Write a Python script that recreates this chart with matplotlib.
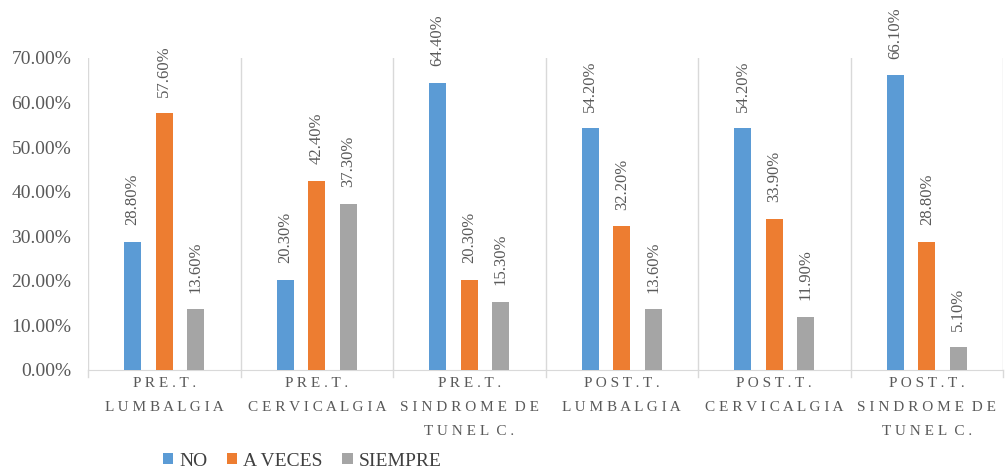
import matplotlib.pyplot as plt
import numpy as np

plt.rcParams['font.family'] = ['Liberation Serif', 'DejaVu Serif']

categories = [
    "PRE.T. LUMBALGIA",
    "PRE.T. CERVICALGIA",
    "PRE.T. SINDROME DE TUNEL C.",
    "POST.T. LUMBALGIA",
    "POST.T. CERVICALGIA",
    "POST.T. SINDROME DE TUNEL C.",
]
# wrapped lines as shown under each group
category_lines = [
    ["PRE.T.", "LUMBALGIA"],
    ["PRE.T.", "CERVICALGIA"],
    ["PRE.T.", "SINDROME DE", "TUNEL C."],
    ["POST.T.", "LUMBALGIA"],
    ["POST.T.", "CERVICALGIA"],
    ["POST.T.", "SINDROME DE", "TUNEL C."],
]
no_vals = [28.8, 20.3, 64.4, 54.2, 54.2, 66.1]
aveces_vals = [57.6, 42.4, 20.3, 32.2, 33.9, 28.8]
siempre_vals = [13.6, 37.3, 15.3, 13.6, 11.9, 5.1]
series_names = ["NO", "A VECES", "SIEMPRE"]
colors = ["#5B9BD5", "#ED7D31", "#A5A5A5"]
yticks = [0, 10, 20, 30, 40, 50, 60, 70]

text_gray = "#595959"


def spaced(line):
    # mimic the wide letter spacing of the original labels
    return "  ".join(" ".join(word) for word in line.split(" "))


fig = plt.figure(figsize=(10.05, 4.72), dpi=100)
ax = fig.add_axes([88 / 1005, 1 - 370 / 472, 915 / 1005, 312 / 472])

x = np.arange(len(categories))
width = 0.11
offset = 0.207
series = [no_vals, aveces_vals, siempre_vals]
for i, (vals, name, col) in enumerate(zip(series, series_names, colors)):
    pos = x + (i - 1) * offset
    bars = ax.bar(pos, vals, width, color=col, label=name, zorder=3)
    for b, v in zip(bars, vals):
        ax.annotate(f"{v:.2f}%", xy=(b.get_x() + b.get_width() / 2, v),
                    xytext=(0, 12), textcoords="offset points",
                    rotation=90, ha="center", va="bottom",
                    fontsize=12, color=text_gray)

ax.set_xlim(-0.5, len(categories) - 0.5)
ax.set_ylim(0, 70)
ax.set_yticks(yticks)
ax.set_yticklabels([f"{t:.2f}%" for t in yticks], fontsize=14, color=text_gray)
ax.tick_params(axis="y", length=0, pad=12)

# group separators
for b in np.arange(-0.5, len(categories), 1.0):
    ax.axvline(b, color="#D9D9D9", lw=1, zorder=1)
    ax.plot([b, b], [0, -1.5], color="#D9D9D9", lw=1, clip_on=False)

for s in ["top", "right", "left"]:
    ax.spines[s].set_visible(False)
ax.spines["bottom"].set_color("#D9D9D9")

ax.set_xticks(x)
ax.set_xticklabels(["\n".join(spaced(l) for l in lines) for lines in category_lines],
                   fontsize=11, color=text_gray, linespacing=2.1,
                   va="top")
ax.tick_params(axis="x", length=0, pad=5)

ax.legend(loc="center", bbox_to_anchor=(302 / 1005, 1 - 461 / 472),
          bbox_transform=fig.transFigure, ncol=3, frameon=False,
          fontsize=14, handlelength=0.55, handleheight=0.55,
          handletextpad=0.3, columnspacing=1.0, labelcolor="#404040")

fig.savefig("out.png", dpi=100)
